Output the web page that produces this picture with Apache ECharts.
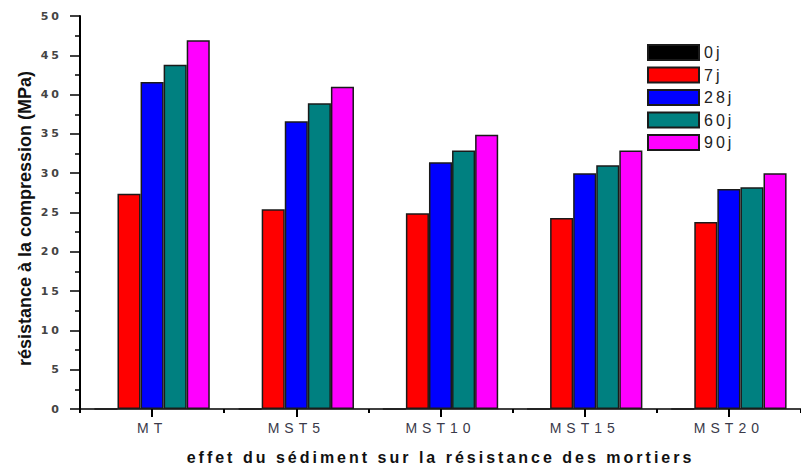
<!DOCTYPE html>
<html>
<head>
<meta charset="utf-8">
<script src="https://cdn.jsdelivr.net/npm/echarts@6/dist/echarts.min.js"></script>
<style>
  html, body { margin: 0; padding: 0; background: #fff; }
  #chart { width: 801px; height: 470px; }
  /* spaced-out lettering for ticks, legend and x title */
  #chart text[style*="11px"] { letter-spacing: 3px; }
  #chart text[style*="14px"] { letter-spacing: 5px; }
  #chart text[style*="16px"] { letter-spacing: 3px; }
</style>
</head>
<body>
<div id="chart"></div>
<script>
// Mortar samples and curing ages
const categories = ['MT', 'MST5', 'MST10', 'MST15', 'MST20'];
const ages = ['0j', '7j', '28j', '60j', '90j'];

// Compressive strength (MPa) per curing age
const day0  = [0, 0, 0, 0, 0];
const day7  = [27.4, 25.4, 24.9, 24.3, 23.8];
const day28 = [41.6, 36.6, 31.4, 30.0, 28.0];
const day60 = [43.8, 38.9, 32.9, 31.0, 28.2];
const day90 = [46.9, 41.0, 34.9, 32.9, 30.0];

const yMin = 0, yMax = 50, yStep = 5;

const colors = ['#000000', '#ff0000', '#0000ff', '#008080', '#ff00ff'];
const seriesData = [day0, day7, day28, day60, day90];

const chart = echarts.init(document.getElementById('chart'), null, { renderer: 'svg' });

chart.setOption({
  animation: false,
  backgroundColor: '#ffffff',
  grid: { left: 80, right: -6, top: 16, bottom: 61 },
  legend: {
    orient: 'vertical',
    left: 642,
    top: 39,
    itemWidth: 51,
    itemHeight: 15,
    itemGap: 5.5,
    icon: 'rect',
    data: ages,
    textStyle: { fontFamily: 'Liberation Sans', fontSize: 16, color: '#222' }
  },
  xAxis: [
    {
      type: 'category',
      data: categories,
      position: 'bottom',
      axisLine: { show: true, lineStyle: { color: '#000', width: 1.5 } },
      axisTick: { show: true, alignWithLabel: true, length: 8, lineStyle: { color: '#000', width: 2 } },
      axisLabel: {
        interval: 0, margin: 12,
        fontFamily: 'Liberation Sans', fontSize: 14, color: '#3a3a4a'
      },
      name: 'effet du sédiment sur la résistance des mortiers',
      nameLocation: 'middle',
      nameGap: 40,
      nameTextStyle: { fontFamily: 'Liberation Sans', fontWeight: 'bold', fontSize: 16, color: '#111' }
    },
    {
      // short ticks on the category boundaries
      type: 'category',
      data: categories,
      position: 'bottom',
      axisLine: { show: false },
      axisTick: { show: true, length: 4, lineStyle: { color: '#000', width: 2 } },
      axisLabel: { show: false },
      splitLine: { show: false }
    }
  ],
  yAxis: {
    type: 'value',
    min: yMin, max: yMax, interval: yStep,
    axisLine: { show: true, lineStyle: { color: '#000', width: 2 } },
    axisTick: { show: true, length: 10, lineStyle: { color: '#000', width: 1.5 } },
    minorTick: { show: true, splitNumber: 2, length: 5, lineStyle: { color: '#000', width: 1.5 } },
    splitLine: { show: false },
    axisLabel: {
      margin: 18,
      fontFamily: 'DejaVu Sans', fontWeight: 'bold', fontSize: 11, color: '#444'
    },
    name: 'résistance à la compression (MPa)',
    nameLocation: 'middle',
    nameGap: 46,
    nameTextStyle: {
      fontFamily: 'Liberation Sans', fontWeight: 'bold', fontSize: 18, color: '#111',
      padding: [0, 12, 0, 0]
    }
  },
  series: ages.map((age, i) => ({
    name: age,
    type: 'bar',
    xAxisIndex: 0,
    data: seriesData[i],
    barGap: '0%',
    barCategoryGap: '20%',
    itemStyle: { color: colors[i], borderColor: '#1a1a1a', borderWidth: 1.5 }
  }))
});
</script>
</body>
</html>
